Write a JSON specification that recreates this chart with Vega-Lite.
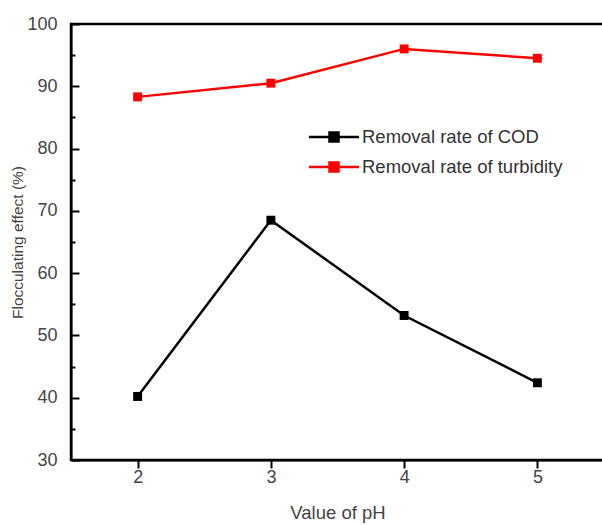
{
  "$schema": "https://vega.github.io/schema/vega-lite/v6.json",
  "width": 533,
  "height": 436,
  "padding": {"left": 10, "top": 15, "right": 0, "bottom": 5},
  "config": {
    "view": {"stroke": "black", "strokeWidth": 2.5},
    "font": "Liberation Sans"
  },
  "data": {
    "values": [
      {"pH": 2, "value": 40.2, "series": "Removal rate of COD"},
      {"pH": 3, "value": 68.5, "series": "Removal rate of COD"},
      {"pH": 4, "value": 53.2, "series": "Removal rate of COD"},
      {"pH": 5, "value": 42.4, "series": "Removal rate of COD"},
      {"pH": 2, "value": 88.3, "series": "Removal rate of turbidity"},
      {"pH": 3, "value": 90.5, "series": "Removal rate of turbidity"},
      {"pH": 4, "value": 96.0, "series": "Removal rate of turbidity"},
      {"pH": 5, "value": 94.5, "series": "Removal rate of turbidity"}
    ]
  },
  "encoding": {
    "x": {
      "field": "pH",
      "type": "quantitative",
      "scale": {"domain": [1.5, 5.5], "nice": false, "zero": false},
      "axis": {
        "title": "Value of pH",
        "values": [2, 2.5, 3, 3.5, 4, 4.5, 5],
        "format": "d",
        "labelExpr": "datum.value % 1 === 0 ? datum.label : ''",
        "grid": false,
        "domainColor": "black",
        "domainWidth": 2,
        "tickColor": "black",
        "tickWidth": 2,
        "tickSize": {"condition": {"test": "datum.value % 1 === 0", "value": 8}, "value": 4},
        "labelFontSize": 18,
        "labelColor": "#444444",
        "labelPadding": 0,
        "titleFontSize": 18.5,
        "titleFontWeight": "normal",
        "titleColor": "#444444",
        "titlePadding": 17
      }
    },
    "y": {
      "field": "value",
      "type": "quantitative",
      "scale": {"domain": [30, 100], "nice": false, "zero": false},
      "axis": {
        "title": "Flocculating effect (%)",
        "values": [30, 35, 40, 45, 50, 55, 60, 65, 70, 75, 80, 85, 90, 95, 100],
        "labelExpr": "datum.value % 10 === 0 ? datum.label : ''",
        "grid": false,
        "domainColor": "black",
        "domainWidth": 2,
        "tickColor": "black",
        "tickWidth": 2,
        "tickSize": {"condition": {"test": "datum.value % 10 === 0", "value": -8}, "value": -4},
        "labelFontSize": 18,
        "labelColor": "#444444",
        "labelPadding": 22,
        "titleFontSize": 15.5,
        "titleFontWeight": "normal",
        "titleColor": "#444444",
        "titlePadding": 1
      }
    },
    "color": {
      "field": "series",
      "type": "nominal",
      "scale": {"domain": ["Removal rate of COD", "Removal rate of turbidity"], "range": ["#000000", "#ff0000"]},
      "legend": {
        "title": null,
        "orient": "none",
        "legendX": 249,
        "legendY": 99,
        "padding": 0,
        "symbolType": "M-2,0H2M-0.36,-0.36H0.36V0.36H-0.36Z",
        "symbolSize": 625,
        "symbolStrokeWidth": 2.5,
        "labelFontSize": 18.5,
        "labelColor": "#333333",
        "labelOffset": 14,
        "labelLimit": 0,
        "rowPadding": 6,
        "encode": {
          "symbols": {
            "update": {
              "fill": {"scale": "color", "field": "value"},
              "stroke": {"scale": "color", "field": "value"},
              "opacity": {"value": 1}
            }
          }
        }
      }
    }
  },
  "layer": [
    {"mark": {"type": "line", "strokeWidth": 2.5}},
    {"mark": {"type": "point", "shape": "square", "filled": true, "size": 80, "opacity": 1}}
  ]
}
